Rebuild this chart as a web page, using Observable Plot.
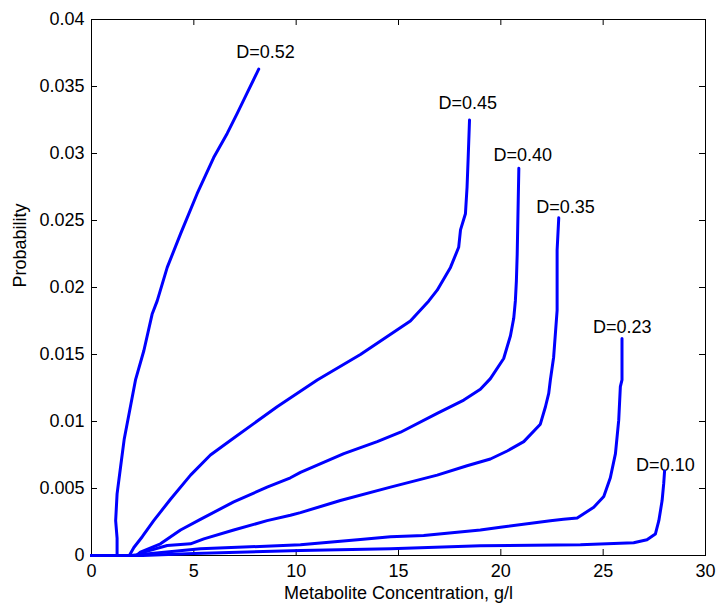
<!DOCTYPE html>
<html>
<head>
<meta charset="utf-8">
<script src="https://cdn.jsdelivr.net/npm/d3@7"></script>
<script src="https://cdn.jsdelivr.net/npm/@observablehq/plot@0.6"></script>
<style>
  html, body { margin: 0; padding: 0; background: #fff; }
  #chart { width: 717px; height: 610px; }
</style>
</head>
<body>
<div id="chart"></div>
<script>
// Dilution-rate curves: metabolite concentration (g/l) vs probability
const x052 = [0, 1.25, 1.25, 1.18, 1.25, 1.42, 1.6, 2.15, 2.56, 2.96, 3.21, 3.70, 4.35, 5.16, 5.97, 6.63, 7.12, 7.6, 8.17];
const y052 = [0, 0, 0.0013, 0.0026, 0.0046, 0.0066, 0.0087, 0.0131, 0.0153, 0.018, 0.019, 0.0215, 0.024, 0.027, 0.0297, 0.0315, 0.033, 0.0345, 0.0363];

const x045 = [0, 1.85, 2.07, 2.48, 3.04, 3.86, 4.84, 5.81, 6.8, 9.07, 11.03, 13.14, 15.58, 16.48, 16.89, 17.54, 17.94, 18.03, 18.27, 18.35, 18.4, 18.47];
const y045 = [0, 0, 0.0006, 0.0014, 0.0026, 0.0042, 0.006, 0.0075, 0.0086, 0.0111, 0.0131, 0.015, 0.0175, 0.019, 0.0198, 0.0215, 0.023, 0.0243, 0.0255, 0.0275, 0.0295, 0.0325];

const x040 = [0, 2.2, 2.39, 3.37, 4.35, 5.32, 6.95, 8.58, 9.72, 10.21, 12.33, 13.96, 15.1, 16.89, 18.19, 19.0, 19.49, 20.14, 20.47, 20.63, 20.71, 20.76, 20.8, 20.85, 20.88];
const y040 = [0, 0, 0.00025, 0.00087, 0.0019, 0.0027, 0.004, 0.0051, 0.0058, 0.0062, 0.0076, 0.0085, 0.0092, 0.0106, 0.0116, 0.0124, 0.0132, 0.0147, 0.0164, 0.0177, 0.019, 0.0205, 0.0225, 0.0265, 0.0289];

const x035 = [0, 2.4, 2.56, 3.7, 4.84, 5.49, 6.95, 8.58, 9.72, 10.21, 12.16, 14.61, 16.89, 18.35, 19.49, 20.31, 21.12, 21.93, 22.18, 22.34, 22.42, 22.58, 22.75, 22.75, 22.83];
const y035 = [0, 0, 0.00025, 0.00075, 0.00087, 0.00124, 0.0019, 0.0026, 0.003, 0.0032, 0.0041, 0.0051, 0.006, 0.0067, 0.0072, 0.0078, 0.0085, 0.0098, 0.0111, 0.0121, 0.0131, 0.0148, 0.0183, 0.0228, 0.0252];

const x023 = [0, 1.9, 5.32, 10.21, 13.14, 14.61, 16.23, 19.0, 19.98, 22.42, 23.06, 23.73, 24.54, 25.03, 25.35, 25.6, 25.76, 25.84, 25.92, 25.92];
const y023 = [0, 0, 0.0005, 0.0008, 0.0012, 0.0014, 0.0015, 0.0019, 0.0021, 0.0026, 0.0027, 0.0028, 0.0036, 0.0044, 0.0058, 0.0076, 0.0101, 0.0126, 0.0131, 0.0162];

const x010 = [0, 2.5, 5.0, 10.21, 14.61, 19.0, 23.89, 26.49, 27.14, 27.55, 27.72, 27.88, 27.96, 28.0];
const y010 = [0, 0, 0.00015, 0.00037, 0.0005, 0.00072, 0.0008, 0.00095, 0.00117, 0.0016, 0.0026, 0.0041, 0.0054, 0.0063];

// Curve names and where each name sits (data units)
const curveNames = ["D=0.52", "D=0.45", "D=0.40", "D=0.35", "D=0.23", "D=0.10"];
const nameX = [8.5, 18.38, 21.07, 23.16, 25.93, 28.04];
const nameY = [0.03754, 0.03373, 0.02985, 0.02599, 0.01704, 0.00672];

const xTicks = [0, 5, 10, 15, 20, 25, 30];
const yTicks = [0, 0.005, 0.01, 0.015, 0.02, 0.025, 0.03, 0.035, 0.04];
const xTitle = "Metabolite Concentration, g/l";
const yTitle = "Probability";

const seriesX = [x052, x045, x040, x035, x023, x010];
const seriesY = [y052, y045, y040, y035, y023, y010];
const points = seriesX.flatMap((xs, i) =>
  xs.map((x, j) => ({D: curveNames[i], x, y: seriesY[i][j]}))
);
const names = curveNames.map((t, i) => ({t, x: nameX[i], y: nameY[i]}));

const chart = Plot.plot({
  width: 717,
  height: 610,
  marginLeft: 91,
  marginRight: 12,
  marginTop: 19,
  marginBottom: 55,
  style: {fontFamily: "'Liberation Sans', Arial, Helvetica, sans-serif", fontSize: "18px", background: "#fff", color: "#000"},
  x: {domain: [0, 30]},
  y: {domain: [0, 0.04]},
  marks: [
    Plot.frame({stroke: "#000", strokeWidth: 1}),
    // inward ticks on all four sides
    Plot.ruleX(xTicks, {x: d => d, insetTop: 530, stroke: "#000"}),
    Plot.ruleX(xTicks, {x: d => d, insetBottom: 530, stroke: "#000"}),
    Plot.ruleY(yTicks, {y: d => d, insetRight: 608, stroke: "#000"}),
    Plot.ruleY(yTicks, {y: d => d, insetLeft: 608, stroke: "#000"}),
    Plot.axisX({ticks: xTicks, tickSize: 0, tickPadding: 9, tickFormat: d => String(d), fontSize: 18, label: null}),
    Plot.axisY({ticks: yTicks, tickSize: 0, tickPadding: 7, tickFormat: d => String(d), fontSize: 18, label: null}),
    Plot.text([xTitle], {frameAnchor: "bottom", dy: 43, fontSize: 18}),
    Plot.text([yTitle], {frameAnchor: "left", rotate: -90, dx: -71, fontSize: 18}),
    Plot.text(names, {x: "x", y: "y", text: "t", fontSize: 18, fill: "#000"}),
    Plot.line(points, {x: "x", y: "y", z: "D", stroke: "#0000ff", strokeWidth: 3, strokeLinejoin: "round", curve: "linear"})
  ]
});
document.getElementById("chart").appendChild(chart);
</script>
</body>
</html>
